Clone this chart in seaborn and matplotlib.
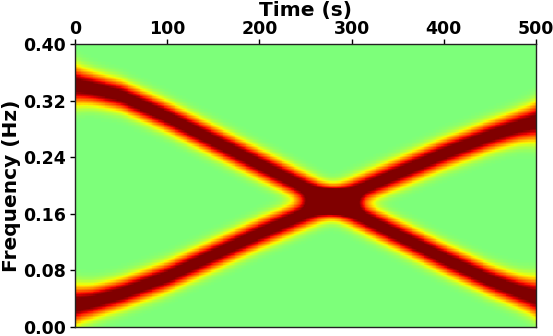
import numpy as np
import matplotlib
matplotlib.use("Agg")
import matplotlib.pyplot as plt
import seaborn as sns

# ---- values ----
duration_s = 500
ridge_times = [0, 20, 50, 100, 200, 300, 400, 450, 480, 500]                         # s
falling_ridge_freqs = [0.342, 0.337, 0.327, 0.297, 0.230, 0.163, 0.097, 0.066, 0.051, 0.042]  # Hz
rising_ridge_freqs = [0.031, 0.036, 0.047, 0.071, 0.132, 0.189, 0.245, 0.270, 0.283, 0.290]   # Hz
freq_max = 0.40
x_ticks = [0, 100, 200, 300, 400, 500]
y_ticks = [0.00, 0.08, 0.16, 0.24, 0.32, 0.40]
y_tick_labels = ["0.00", "0.08", "0.16", "0.24", "0.32", "0.40"]
ridge_half_width_hz = 0.020    # profile scale of each ridge
ridge_shape = 2.2              # profile exponent
ridge_peak = 1.1               # ridge peak relative to the colour-scale maximum
edge_broadening = 0.3
edge_scale_s = 15.0

# ---- time-frequency map: ridges following the read-off paths ----
n_time = duration_s
n_freq = 200
df = freq_max / n_freq
times = np.arange(n_time) + 0.5
freqs = (np.arange(n_freq) + 0.5) * df
width_t = ridge_half_width_hz * (1 + edge_broadening * (np.exp(-times / edge_scale_s)
                                                      + np.exp(-(duration_s - times) / edge_scale_s)))
tfr = np.zeros((n_freq, n_time))
for ridge in (falling_ridge_freqs, rising_ridge_freqs):
    centre = np.interp(times, ridge_times, ridge)
    dist = np.abs(freqs[:, None] - centre[None, :]) / width_t[None, :]
    tfr += ridge_peak * np.exp(-dist ** ridge_shape)

# ---- figure ----
plt.rcParams["font.family"] = ["DejaVu Sans"]
plt.rcParams["font.weight"] = "bold"
fig = plt.figure(figsize=(5.53, 3.36), dpi=100)
ax = fig.add_axes([75 / 553, 9 / 336, 461 / 553, 283 / 336])
sns.heatmap(tfr, cmap="jet", vmin=-1.0, vmax=1.0, cbar=False, ax=ax,
            xticklabels=False, yticklabels=False, rasterized=True)
ax.invert_yaxis()
ax.set_xlim(0, n_time)
ax.set_ylim(0, n_freq)
for sp in ax.spines.values():
    sp.set_visible(True)
    sp.set_color("#222222")
    sp.set_linewidth(1.0)
ax.xaxis.tick_top()
ax.xaxis.set_label_position("top")
ax.set_xticks(x_ticks)
ax.set_xticklabels([str(v) for v in x_ticks], fontsize=12.5, fontweight="bold")
ax.set_yticks(np.array(y_ticks) / df)
ax.set_yticklabels(y_tick_labels, fontsize=12.5, fontweight="bold", rotation=0)
ax.tick_params(axis="both", direction="out", length=3.5, width=1)
ax.tick_params(axis="y", pad=3)
ax.tick_params(axis="x", pad=1)
ax.set_xlabel("Time (s)", fontsize=14.5, fontweight="bold")
ax.set_ylabel("Frequency (Hz)", fontsize=14.5, fontweight="bold")
ax.xaxis.set_label_coords(0.5, 1.10)
ax.yaxis.set_label_coords(-0.118, 0.5)
fig.savefig("out.png", dpi=100)
